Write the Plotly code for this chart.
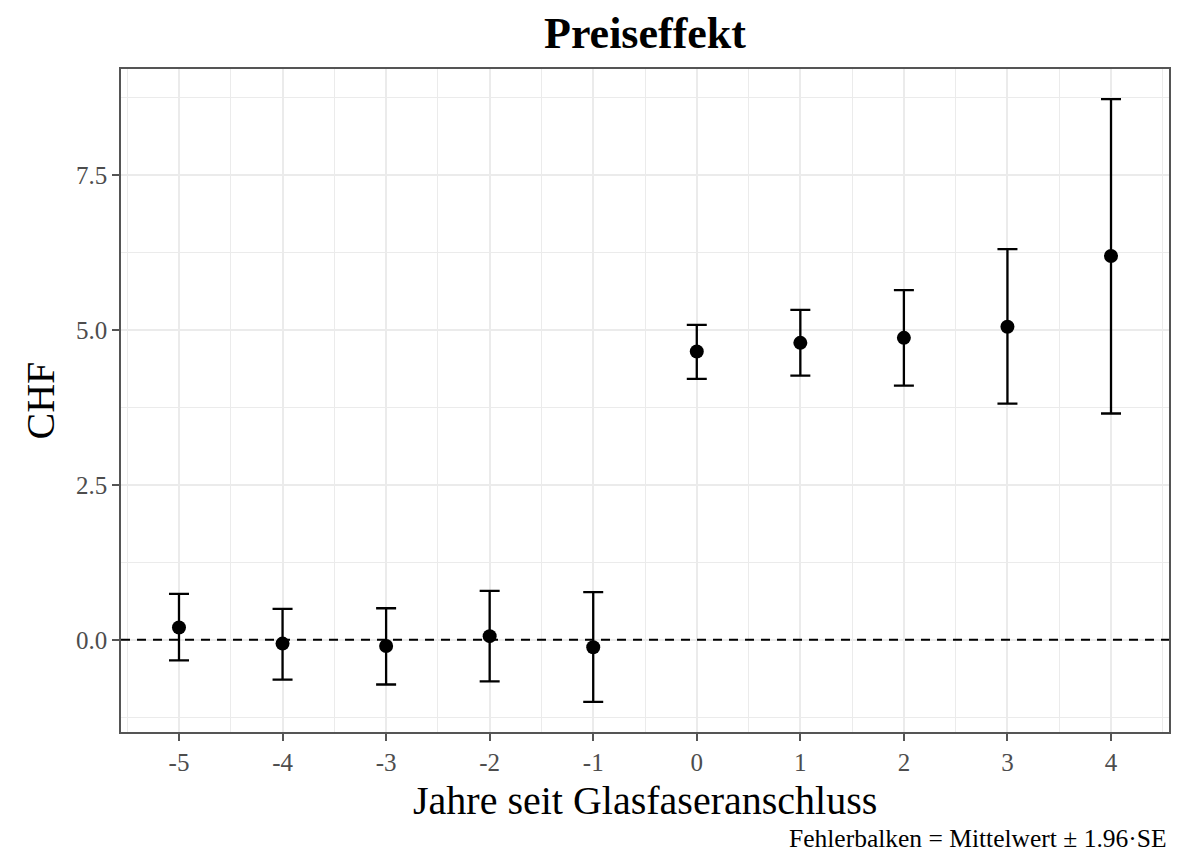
import plotly.graph_objects as go

# Data
years = [-5, -4, -3, -2, -1, 0, 1, 2, 3, 4]
estimate = [0.20, -0.06, -0.10, 0.06, -0.12, 4.65, 4.79, 4.87, 5.05, 6.19]
ci_upper = [0.74, 0.50, 0.51, 0.79, 0.77, 5.08, 5.32, 5.64, 6.30, 8.72]
ci_lower = [-0.33, -0.64, -0.72, -0.67, -1.00, 4.21, 4.26, 4.10, 3.81, 3.65]

x_ticks = [-5, -4, -3, -2, -1, 0, 1, 2, 3, 4]
y_ticks = [0.0, 2.5, 5.0, 7.5]
y_tick_labels = ["0.0", "2.5", "5.0", "7.5"]

title_text = "<b>Preiseffekt</b>"
x_title = "Jahre seit Glasfaseranschluss"
y_title = "CHF"
caption = "Fehlerbalken = Mittelwert ± 1.96·SE"

FONT = "Palatino Linotype, Palatino, Book Antiqua, Liberation Serif, serif"

err_plus = [u - e for u, e in zip(ci_upper, estimate)]
err_minus = [e - l for e, l in zip(estimate, ci_lower)]

fig = go.Figure()
fig.add_hline(y=0, line=dict(color="#000000", width=2, dash="9px,7px"))
fig.add_trace(go.Scatter(
    x=years, y=estimate, mode="markers",
    marker=dict(color="#000000", size=14),
    error_y=dict(type="data", symmetric=False, array=err_plus, arrayminus=err_minus,
                 color="#000000", thickness=2.3, width=10),
    showlegend=False,
))

grid_major = "#EBEBEB"
border = "#555555"
# page body adds an 8px offset; figure is sized/margined to compensate
fig.update_layout(
    width=1180, height=848,
    margin=dict(l=113, r=19, t=61, b=124),
    paper_bgcolor="white", plot_bgcolor="white",
    font=dict(family=FONT, color="#000000"),
    title=dict(text=title_text, x=0.5, xref="paper", xanchor="center",
               y=1 - 25 / 848, yanchor="middle",
               font=dict(family=FONT, size=44, color="#000000")),
    xaxis=dict(
        range=[-5.56, 4.56], tickmode="array", tickvals=x_ticks,
        ticktext=[str(v) for v in x_ticks],
        showgrid=True, gridcolor=grid_major, gridwidth=2,
        minor=dict(dtick=0.5, tick0=0.5, showgrid=True, gridcolor=grid_major, gridwidth=1),
        ticks="outside", ticklen=7, tickwidth=1.5, tickcolor=border,
        tickfont=dict(family=FONT, size=25, color="#4D4D4D"),
        showline=True, linecolor=border, linewidth=1.5, mirror=True,
        zeroline=False,
    ),
    yaxis=dict(
        range=[-1.486, 9.206], tickmode="array", tickvals=y_ticks,
        ticktext=y_tick_labels,
        showgrid=True, gridcolor=grid_major, gridwidth=2,
        minor=dict(dtick=1.25, tick0=-1.25, showgrid=True, gridcolor=grid_major, gridwidth=1),
        ticks="outside", ticklen=7, tickwidth=1.5, tickcolor=border,
        tickfont=dict(family=FONT, size=25, color="#4D4D4D"),
        showline=True, linecolor=border, linewidth=1.5, mirror=True,
        zeroline=False,
    ),
    annotations=[
        dict(text=x_title, x=0.5, xref="paper", y=0, yref="paper",
             xanchor="center", yanchor="middle", yshift=-68, showarrow=False,
             font=dict(family=FONT, size=40, color="#000000")),
        dict(text=y_title, x=0, xref="paper", y=0.5, yref="paper",
             xanchor="center", yanchor="middle", xshift=-81, textangle=-90,
             showarrow=False, font=dict(family=FONT, size=40, color="#000000")),
        dict(text=caption, x=1, xref="paper", y=0, yref="paper",
             xanchor="right", yanchor="middle", yshift=-106, showarrow=False,
             font=dict(family=FONT, size=25.5, color="#000000")),
    ],
)

fig.write_html("out.html")
